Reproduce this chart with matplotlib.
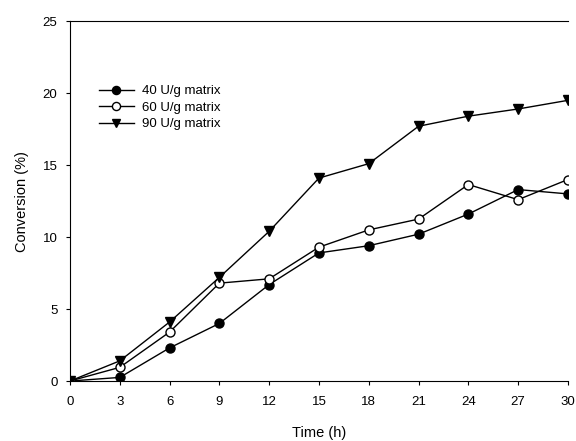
import matplotlib
matplotlib.use('Agg')
import matplotlib.pyplot as plt

plt.rcParams['font.family'] = ['Liberation Sans', 'DejaVu Sans']

time_h = [0, 3, 6, 9, 12, 15, 18, 21, 24, 27, 30]
conv_40 = [0, 0.25, 2.3, 4.0, 6.7, 8.9, 9.4, 10.2, 11.6, 13.3, 13.0]
conv_60 = [0, 0.95, 3.4, 6.8, 7.1, 9.3, 10.5, 11.25, 13.65, 12.6, 14.0]
conv_90 = [0, 1.4, 4.1, 7.2, 10.4, 14.1, 15.1, 17.7, 18.4, 18.9, 19.5]
labels = ['40 U/g matrix', '60 U/g matrix', '90 U/g matrix']

fig = plt.figure(figsize=(5.76, 4.41), dpi=100)
ax = fig.add_axes([0.1215, 0.136, 0.8645, 0.816])

ax.plot(time_h, conv_40, 'k-', marker='o', ms=6.5, mfc='black', mec='black', lw=1, label=labels[0])
ax.plot(time_h, conv_60, 'k-', marker='o', ms=6.5, mfc='white', mec='black', lw=1, label=labels[1])
ax.plot(time_h, conv_90, 'k-', marker='v', ms=6.5, mfc='black', mec='black', lw=1, label=labels[2])

ax.set_xlim(0, 30)
ax.set_ylim(0, 25)
ax.set_xticks(range(0, 31, 3))
ax.set_yticks(range(0, 26, 5))
ax.tick_params(direction='out', labelsize=9.5, length=3)
ax.tick_params(axis='x', pad=8)
ax.tick_params(axis='y', pad=6)
ax.spines['right'].set_visible(False)
ax.set_xlabel('Time (h)', fontsize=10.5, labelpad=13)
ax.set_ylabel('Conversion (%)', fontsize=10.5, labelpad=10)

ax.legend(loc='upper left', bbox_to_anchor=(0.035, 0.855), frameon=False, fontsize=9.5,
          handlelength=2.6, labelspacing=0.32, handletextpad=0.6, markerscale=0.9)

fig.savefig('out.png', dpi=100)
